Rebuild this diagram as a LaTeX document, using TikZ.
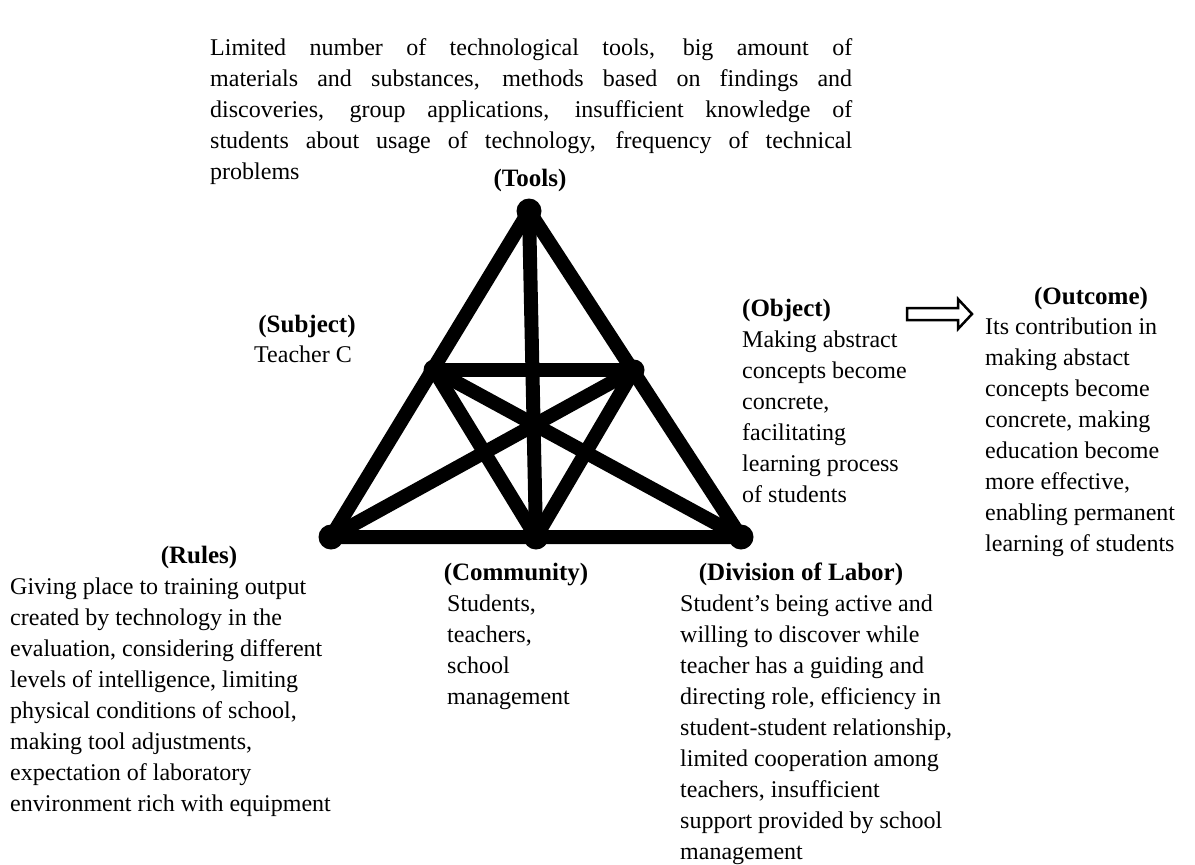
\documentclass[tikz,border=0pt]{standalone}
\usepackage{fontspec}
\setmainfont{Liberation Serif}
\usetikzlibrary{calc}
\newcommand{\linesblock}[1]{\begin{tabular}[t]{@{}l@{}}#1\end{tabular}}
\begin{document}
\begin{tikzpicture}[x=1pt,y=-1pt,
  txt/.style={inner sep=0pt, anchor=base west, font=\fontsize{24}{31}\selectfont},
  head/.style={inner sep=0pt, anchor=base, font=\fontsize{25}{31}\selectfont\bfseries},
  bar/.style={line width=14pt, line cap=round, line join=round},
  joint/.style={fill=black}]
\useasboundingbox (0,0) rectangle (1195,865);

% vertices of the activity triangle
\coordinate (T)  at (529,211);
\coordinate (BL) at (331,537);
\coordinate (BR) at (741,537);
\coordinate (BM) at (536,537);
\coordinate (ML) at (434,370);
\coordinate (MR) at (634,370);

\draw[bar] (T) -- (BL) -- (BR) -- cycle;
\draw[bar] (T) -- (BM);
\draw[bar] (ML) -- (MR);
\draw[bar] (BL) -- (MR);
\draw[bar] (BR) -- (ML);
\draw[bar] (ML) -- (BM);
\draw[bar] (MR) -- (BM);

\foreach \p in {T,BL,BR,BM} \fill[joint] (\p) circle (12.5);
\foreach \p in {ML,MR} \fill[joint] (\p) circle (10.5);

% tools
\node[txt] (toolsbody) at (210,55) {\parbox[t]{642pt}{\fontsize{24}{31}\selectfont
Limited number of technological tools, big amount of\linebreak
materials and substances, methods based on findings and\linebreak
discoveries, group applications, insufficient knowledge of\linebreak
students about usage of technology, frequency of technical\linebreak
problems}};
\node[head] (tools) at (530,186) {(Tools)};

% subject
\node[head] (subject) at (307,332) {(Subject)};
\node[inner sep=0pt, anchor=base, font=\fontsize{24}{31}\selectfont] (subjectbody) at (303,362) {Teacher C};

% object
\node[txt, font=\fontsize{25}{31}\selectfont\bfseries] (object) at (742,316) {(Object)};
\node[txt] (objectbody) at (742,347) {\linesblock{Making abstract\\ concepts become\\ concrete,\\ facilitating\\ learning process\\ of students}};

% outcome
\node[head] (outcome) at (1091,304) {(Outcome)};
\node[txt] (outcomebody) at (985,334) {\linesblock{Its contribution in\\ making abstact\\ concepts become\\ concrete, making\\ education become\\ more effective,\\ enabling permanent\\ learning of students}};

% object to outcome
\coordinate (a1) at (907,314);
\coordinate (a2) at (972,314);
\draw[line width=2.5pt, fill=white, line join=miter]
  ($(a1)+(0,-6)$) -- ($(a2)+(-14,-6)$) -- ($(a2)+(-14,-15)$) -- (a2)
  -- ($(a2)+(-14,15)$) -- ($(a2)+(-14,6)$) -- ($(a1)+(0,6)$) -- cycle;

% rules
\node[head] (rules) at (199,563) {(Rules)};
\node[txt] (rulesbody) at (10,594) {\linesblock{Giving place to training output\\ created by technology in the\\ evaluation, considering different\\ levels of intelligence, limiting\\ physical conditions of school,\\ making tool adjustments,\\ expectation of laboratory\\ environment rich with equipment}};

% community
\node[head] (community) at (516,580) {(Community)};
\node[txt] (communitybody) at (447,611) {\linesblock{Students,\\ teachers,\\ school\\ management}};

% division of labor
\node[head] (division) at (801,580) {(Division of Labor)};
\node[txt] (divisionbody) at (680,611) {\linesblock{Student's being active and\\ willing to discover while\\ teacher has a guiding and\\ directing role, efficiency in\\ student-student relationship,\\ limited cooperation among\\ teachers, insufficient\\ support provided by school\\ management}};
\end{tikzpicture}
\end{document}
